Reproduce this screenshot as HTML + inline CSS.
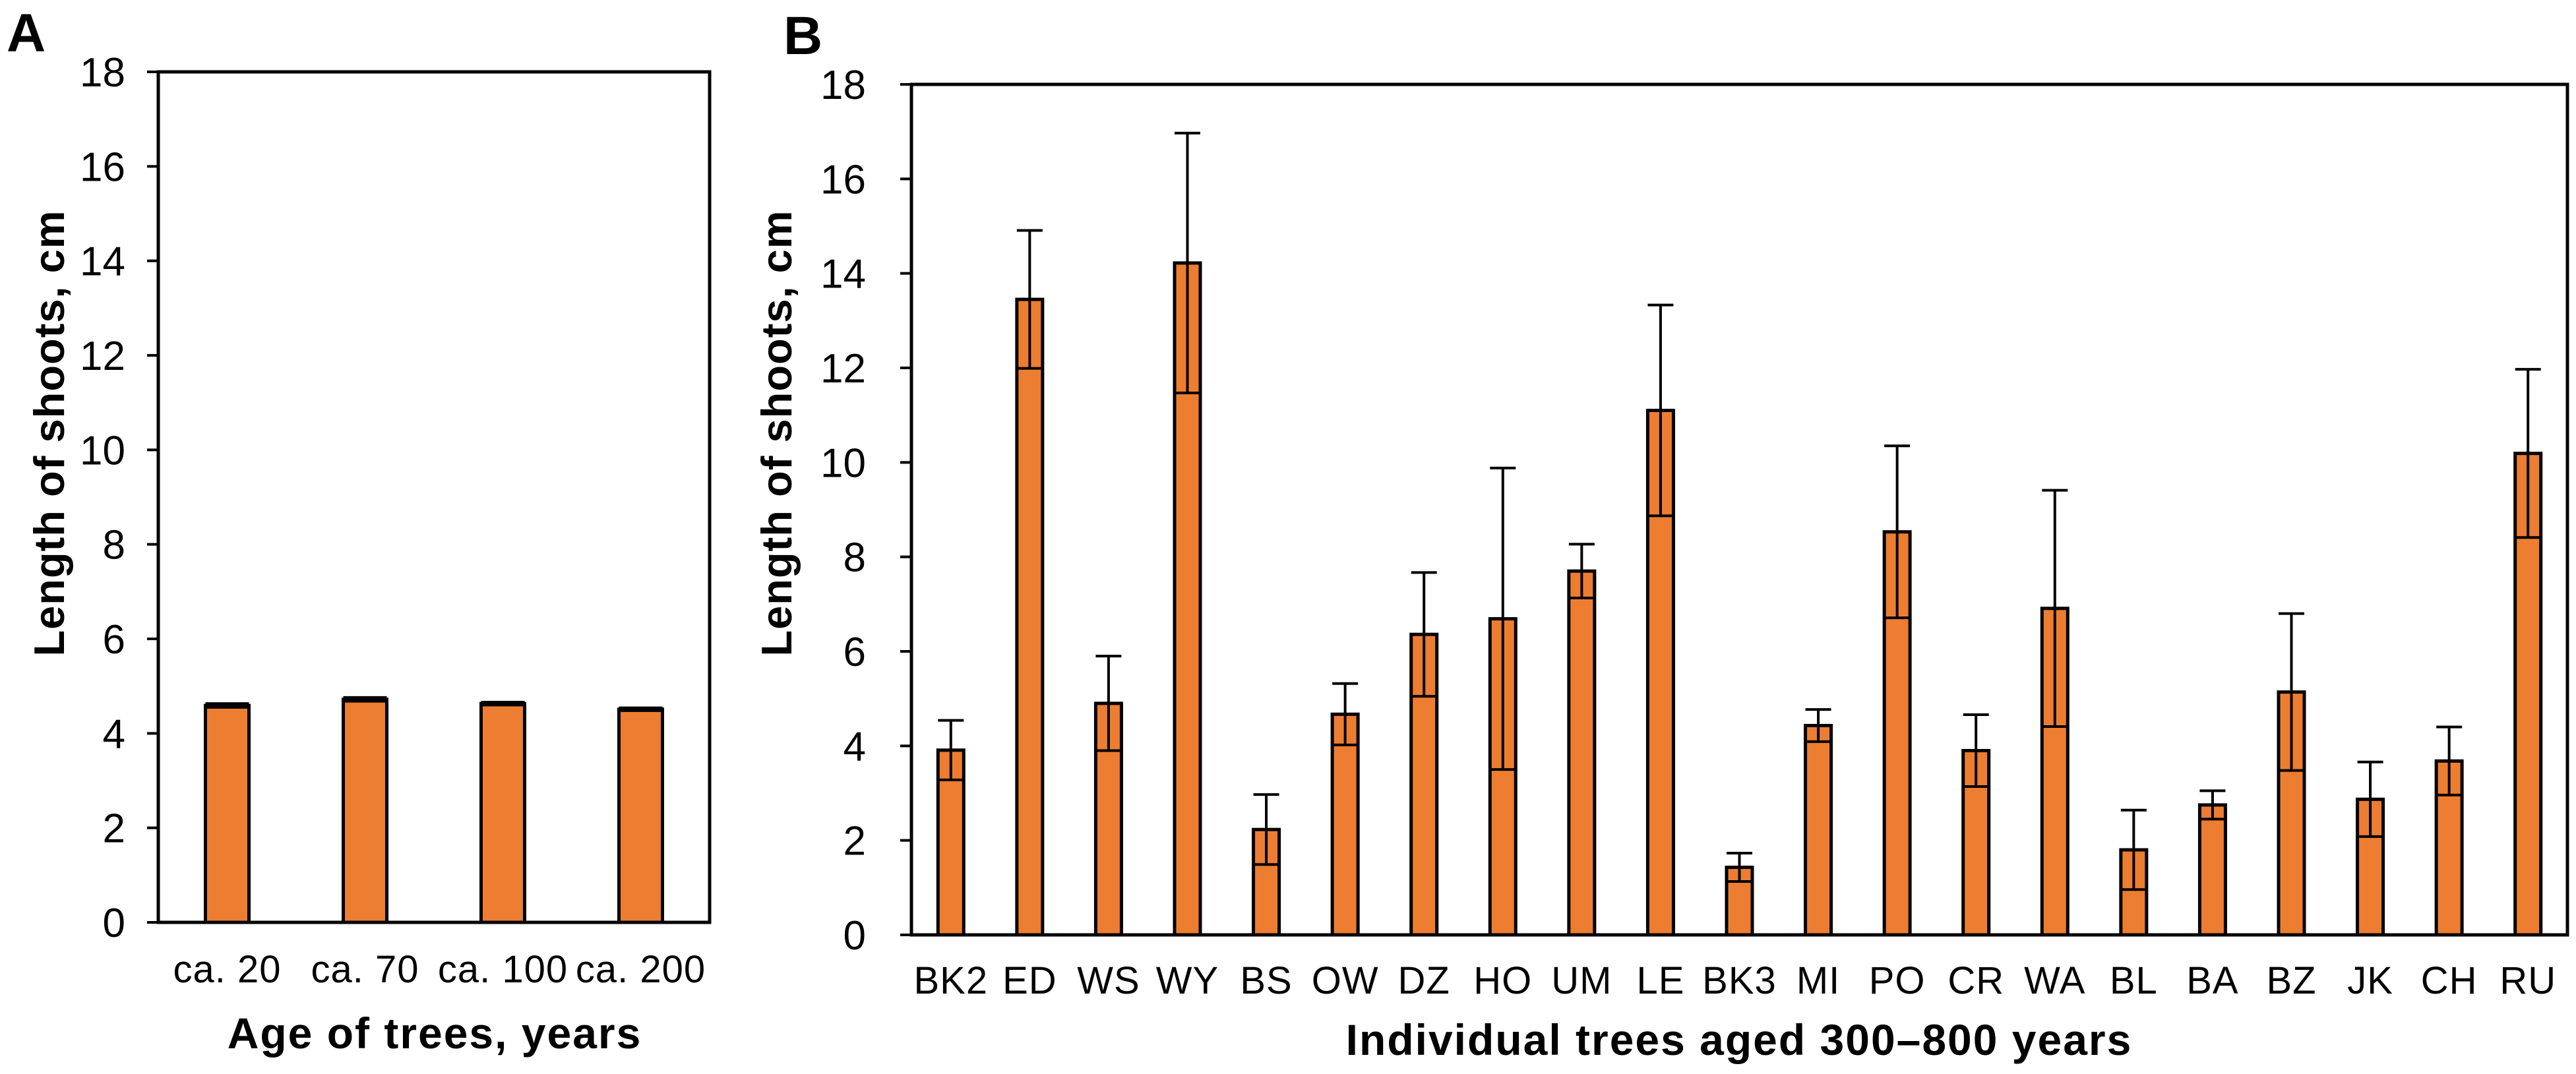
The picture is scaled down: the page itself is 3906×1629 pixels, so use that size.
<!DOCTYPE html>
<html><head><meta charset="utf-8"><style>
html,body{margin:0;padding:0;background:#fff;}
svg{display:block;font-family:"Liberation Sans",Arial,sans-serif;}
</style></head><body>
<svg id="fig" width="3906" height="1629" viewBox="0 0 3906 1629">
<text x="10" y="78" font-size="82" font-weight="bold">A</text>
<text x="1188" y="82" font-size="82" font-weight="bold">B</text>
<g id="pa"></g>
<g id="pb"></g>
<text transform="translate(97,657) rotate(-90)" text-anchor="middle" font-size="65" font-weight="bold" letter-spacing="1">Length of shoots, cm</text>
<text transform="translate(1200,657) rotate(-90)" text-anchor="middle" font-size="65" font-weight="bold" letter-spacing="1">Length of shoots, cm</text>
<text x="659" y="1590" text-anchor="middle" font-size="66" font-weight="bold" letter-spacing="2">Age of trees, years</text>
<text x="2637" y="1600" text-anchor="middle" font-size="66" font-weight="bold" letter-spacing="2">Individual trees aged 300–800 years</text>
</svg>
<script>
const yTicks = [0, 2, 4, 6, 8, 10, 12, 14, 16, 18];
const catsA = ["ca. 20", "ca. 70", "ca. 100", "ca. 200"];
const valsA = [4.59, 4.72, 4.63, 4.51];
const errA = [0.04, 0.04, 0.03, 0.03];
const catsB = ["BK2","ED","WS","WY","BS","OW","DZ","HO","UM","LE","BK3","MI","PO","CR","WA","BL","BA","BZ","JK","CH","RU"];
const valsB = [3.91,13.45,4.90,14.22,2.23,4.67,6.36,6.69,7.70,11.10,1.43,4.43,8.53,3.90,6.91,1.80,2.75,5.14,2.87,3.68,10.19];
const errB = [0.63,1.46,1.00,2.75,0.74,0.65,1.31,3.19,0.57,2.23,0.30,0.34,1.82,0.76,2.50,0.84,0.30,1.66,0.79,0.72,1.78];

const NS = "http://www.w3.org/2000/svg";
function mk(parent, tag, attrs){const e=document.createElementNS(NS,tag);for(const k in attrs)e.setAttribute(k,attrs[k]);parent.appendChild(e);return e;}

function drawPanel(g, cats, vals, errs, box, barW, prefix){
  const yScale = v => box.bottom - (v/18)*(box.bottom-box.top);
  const band = (box.right-box.left)/cats.length;
  const xScale = i => box.left + band*(i+0.5);
  yTicks.forEach(t=>{
    const y=yScale(t);
    const tk=mk(g,"line",{x1:box.left-17,x2:box.left,y1:y,y2:y,stroke:"#000","stroke-width":4});
    
    
    const tx=mk(g,"text",{x:box.tickX,y:y+22,"text-anchor":"end","font-size":62});
    tx.textContent=t;
    
    
  });
  cats.forEach((c,i)=>{
    const cx=xScale(i), y=yScale(vals[i]), y0=yScale(0);
    const r=mk(g,"rect",{x:cx-barW/2,y:y,width:barW,height:y0-y,fill:"#ED7D31",stroke:"#000","stroke-width":5});
    
    
    const yu=yScale(vals[i]+errs[i]), yl=yScale(vals[i]-errs[i]);
    const eb=mk(g,"path",{d:`M${cx},${yu}V${yl}M${cx-barW/2},${yu}H${cx+barW/2}M${cx-barW/2},${yl}H${cx+barW/2}`,stroke:"#000","stroke-width":4,fill:"none"});
    
    
    const lt=mk(g,"text",{x:cx,y:box.labelY,"text-anchor":"middle","font-size":58,"letter-spacing":1});
    lt.textContent=c;
    
    
  });
  const fr=mk(g,"rect",{x:box.left,y:box.top,width:box.right-box.left,height:box.bottom-box.top,fill:"none",stroke:"#000","stroke-width":5});
  
  
}
drawPanel(document.getElementById("pa"), catsA, valsA, errA, {left:240,right:1076,top:109,bottom:1399,tickX:190,labelY:1490}, 66, "panel-a");
drawPanel(document.getElementById("pb"), catsB, valsB, errB, {left:1382,right:3893,top:128,bottom:1418,tickX:1313,labelY:1507}, 39, "panel-b");
</script>
</body></html>
